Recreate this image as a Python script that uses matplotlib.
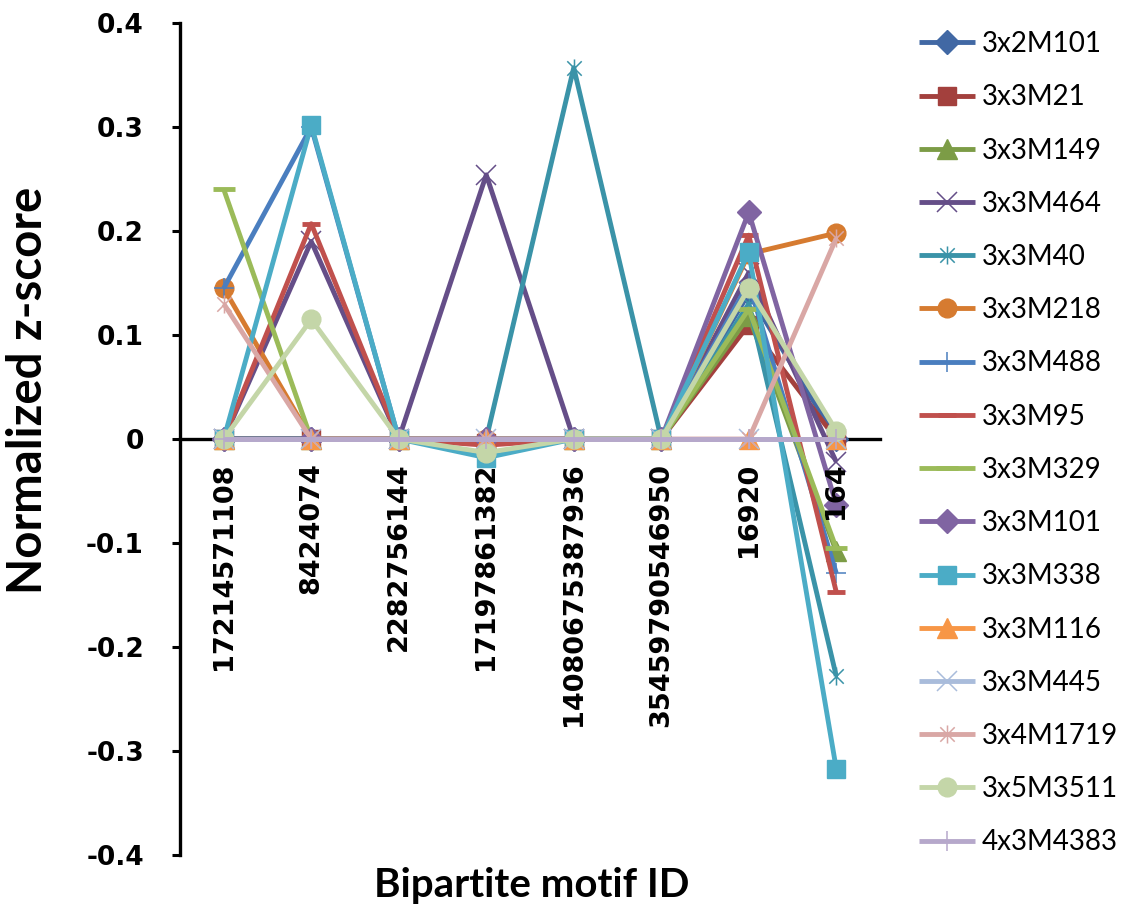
import matplotlib
matplotlib.use("Agg")
import matplotlib.pyplot as plt
from matplotlib.path import Path

plt.rcParams["axes.unicode_minus"] = False

motif_ids = ["17214571108", "8424074", "2282756144", "17197861382",
             "14080675387936", "35459790546950", "16920", "164"]

series_names = ["3x2M101", "3x3M21", "3x3M149", "3x3M464", "3x3M40", "3x3M218",
                "3x3M488", "3x3M95", "3x3M329", "3x3M101", "3x3M338", "3x3M116",
                "3x3M445", "3x4M1719", "3x5M3511", "4x3M4383"]

v_3x2M101 = [0, 0, 0, 0, 0, 0, 0.14, 0]
v_3x3M21 = [0, 0, 0, -0.004, 0, 0, 0.11, 0]
v_3x3M149 = [0, 0, 0, 0, 0, 0, 0.118, -0.108]
v_3x3M464 = [0, 0.19, 0, 0.254, 0, 0, 0.16, -0.022]
v_3x3M40 = [0, 0, 0, 0, 0.357, 0, 0.13, -0.228]
v_3x3M218 = [0.145, 0, 0, 0, 0, 0, 0.178, 0.198]
v_3x3M488 = [0.145, 0.30, 0, 0, 0, 0, 0.15, -0.129]
v_3x3M95 = [0, 0.207, 0, -0.006, 0, 0, 0.196, -0.147]
v_3x3M329 = [0.24, 0, 0, 0, 0, 0, 0.125, -0.105]
v_3x3M101 = [0, 0, 0, 0, 0, 0, 0.218, -0.063]
v_3x3M338 = [0, 0.302, 0, -0.018, 0, 0, 0.18, -0.317]
v_3x3M116 = [0, 0, 0, 0, 0, 0, 0, 0]
v_3x3M445 = [0, 0, 0, 0, 0, 0, 0, 0]
v_3x4M1719 = [0.13, 0, 0, 0, 0, 0, 0, 0.193]
v_3x5M3511 = [0, 0.115, 0, -0.013, 0, 0, 0.145, 0.008]
v_4x3M4383 = [0, 0, 0, 0, 0, 0, 0, 0]

series_values = [v_3x2M101, v_3x3M21, v_3x3M149, v_3x3M464, v_3x3M40, v_3x3M218,
                 v_3x3M488, v_3x3M95, v_3x3M329, v_3x3M101, v_3x3M338, v_3x3M116,
                 v_3x3M445, v_3x4M1719, v_3x5M3511, v_4x3M4383]

colors = ["#4168A4", "#A3403D", "#7C9C46", "#654E88", "#3A93A8", "#D67B30",
          "#4A7EBF", "#C0504D", "#9BBB59", "#8064A2", "#4BACC6", "#F79646",
          "#A9BCDB", "#D9A7A5", "#C4D6A8", "#B6A8CB"]

# star marker: an x crossed by a vertical stroke
star = Path([(-1, -1), (1, 1), (-1, 1), (1, -1), (0, -1.25), (0, 1.25)],
            [Path.MOVETO, Path.LINETO, Path.MOVETO, Path.LINETO,
             Path.MOVETO, Path.LINETO])

# (marker, size, edge width, filled)
marker_styles = [("D", 12.5, 1, True), ("s", 12.5, 1, True), ("^", 14, 1, True),
                 ("x", 14, 1.1, False), (star, 13, 1.1, False), ("o", 13.5, 1, True),
                 ("+", 15, 1.1, False), ("_", 13, 3.5, False), ("_", 16, 3.5, False),
                 ("D", 12.5, 1, True), ("s", 12.5, 1, True), ("^", 14, 1, True),
                 ("x", 14, 1.1, False), (star, 13, 1.1, False), ("o", 13.5, 1, True),
                 ("+", 15, 1.1, False)]

fig = plt.figure(figsize=(11.33, 9.13), dpi=100)
ax = fig.add_axes([180 / 1133, 1 - 855 / 913, 700 / 1133, 832 / 913])

# category axis crosses the value axis at zero
for s in ("top", "right"):
    ax.spines[s].set_visible(False)
ax.spines["bottom"].set_position(("data", 0))
ax.spines["bottom"].set_linewidth(2.4)
ax.spines["bottom"].set_zorder(2)
ax.spines["left"].set_linewidth(2.4)

x = list(range(len(motif_ids)))
handles = []
for name, vals, col, (mk, ms, mew, filled) in zip(series_names, series_values,
                                                   colors, marker_styles):
    h, = ax.plot(x, vals, color=col, lw=3.5, marker=mk, markersize=ms,
                 markeredgewidth=mew, markeredgecolor=col,
                 markerfacecolor=col if filled else "none",
                 solid_capstyle="butt", label=name, clip_on=False, zorder=3)
    handles.append(h)

ax.set_xlim(-0.5, len(motif_ids) - 0.5)
ax.set_ylim(-0.4, 0.4)

yt = [0.4, 0.3, 0.2, 0.1, 0, -0.1, -0.2, -0.3, -0.4]
ax.set_yticks(yt)
ax.set_yticklabels(["0" if v == 0 else f"{v:.1f}" for v in yt],
                   fontsize=19, fontweight="bold", family="DejaVu Sans")
ax.tick_params(axis="y", direction="out", length=6, width=2.2, pad=20)

ax.set_xticks(x)
ax.set_xticklabels(motif_ids, rotation=90, fontsize=19.5, fontweight="bold",
                   family="DejaVu Sans", va="top", ha="center")
ax.tick_params(axis="x", length=0, pad=17)
# category labels sit above the series lines
ax.xaxis.set_zorder(4)

fig.text(532 / 1133, 1 - 885 / 913, "Bipartite motif ID",
         ha="center", va="center", fontsize=29, fontweight="bold", family="Lato")
fig.text(28 / 1133, 1 - 390 / 913, "Normalized z-score", rotation=90,
         ha="center", va="center", fontsize=34, fontweight="bold", family="Lato")

leg = fig.legend(handles=handles, loc="upper left",
                 bbox_to_anchor=(908 / 1133, 1 - 20 / 913), frameon=False,
                 prop={"family": "Lato", "size": 20}, handlelength=2.0,
                 handletextpad=0.25, labelspacing=0.98, borderaxespad=0)

fig.savefig("out.png", dpi=100)
